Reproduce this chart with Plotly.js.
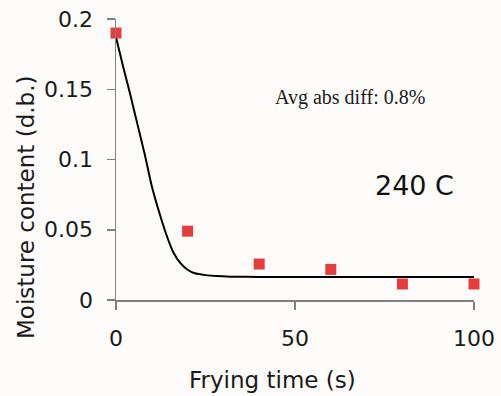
<!DOCTYPE html>
<html>
<head>
<meta charset="utf-8">
<script src="https://cdn.plot.ly/plotly-3.0.1.min.js"></script>
<style>html,body{margin:0;padding:0;background:#fdfcfa;}#chart{width:501px;height:396px;}</style>
</head>
<body>
<div id="chart"></div>
<script>
// Measured data points (red squares)
var measuredTime = [0, 20, 40, 60, 80, 100];
var measuredMoisture = [0.19, 0.049, 0.0256, 0.0218, 0.0114, 0.0114];

// Model curve (black line)
var modelTime = [0, 2, 4, 6, 8, 10, 12, 14, 16, 18, 20, 22, 25, 28, 32, 40, 60, 80, 100];
var modelMoisture = [0.187, 0.166, 0.146, 0.125, 0.104, 0.081, 0.063, 0.047, 0.034, 0.0262, 0.0215, 0.019, 0.0177, 0.017, 0.0166, 0.0164, 0.0163, 0.0163, 0.0163];

var xTickVals = [0, 50, 100];
var yTickVals = [0, 0.05, 0.1, 0.15, 0.2];
var yTickText = ['0', '0.05', '0.1', '0.15', '0.2'];

var xTitle = 'Frying time (s)';
var yTitle = 'Moisture content (d.b.)';
var noteText = 'Avg abs diff: 0.8%';
var tempText = '240 C';

var traces = [
  {
    x: modelTime, y: modelMoisture, type: 'scatter', mode: 'lines',
    line: {color: '#000000', width: 2, shape: 'spline', smoothing: 0.6},
    hoverinfo: 'skip', showlegend: false
  },
  {
    x: measuredTime, y: measuredMoisture, type: 'scatter', mode: 'markers',
    marker: {symbol: 'square', size: 11, color: '#e63c3c'},
    showlegend: false, cliponaxis: false
  }
];

var sans = 'DejaVu Sans, Verdana, sans-serif';
var tickFont = {family: sans, size: 22, color: '#1a1a1a'};
var titleFont = {family: sans, size: 23, color: '#1a1a1a'};

var layout = {
  width: 501, height: 396,
  margin: {l: 116, r: 27, t: 19, b: 96},
  paper_bgcolor: '#fdfcfa', plot_bgcolor: '#fdfcfa',
  font: {family: sans, color: '#1a1a1a'},
  xaxis: {
    range: [0, 100], tickvals: xTickVals, ticktext: xTickVals.map(String),
    showline: true, linecolor: '#808080', linewidth: 1.5,
    ticks: 'outside', ticklen: 8, tickcolor: '#808080', tickwidth: 1.5,
    ticklabelstandoff: 10,
    showgrid: false, zeroline: false, tickfont: tickFont,
    automargin: false
  },
  yaxis: {
    range: [0, 0.2], tickvals: yTickVals, ticktext: yTickText,
    showline: true, linecolor: '#808080', linewidth: 1.5,
    ticks: 'outside', ticklen: 8, tickcolor: '#808080', tickwidth: 1.5,
    ticklabelstandoff: 9,
    showgrid: false, zeroline: false, tickfont: tickFont,
    automargin: false
  },
  annotations: [
    {x: 0.4385, y: -0.2847, xref: 'paper', yref: 'paper', xanchor: 'center', yanchor: 'middle',
     text: xTitle, showarrow: false, font: titleFont},
    {x: -0.2514, y: 0.331, xref: 'paper', yref: 'paper', xanchor: 'center', yanchor: 'middle',
     text: yTitle, showarrow: false, textangle: -90, font: titleFont},
    {x: 0.654, y: 0.719, xref: 'paper', yref: 'paper', xanchor: 'center', yanchor: 'middle',
     text: noteText, showarrow: false,
     font: {family: 'Liberation Serif, Times New Roman, serif', size: 20, color: '#1a1a1a'}},
    {x: 0.835, y: 0.406, xref: 'paper', yref: 'paper', xanchor: 'center', yanchor: 'middle',
     text: tempText, showarrow: false,
     font: {family: sans, size: 27, color: '#111111'}}
  ]
};

Plotly.newPlot('chart', traces, layout, {displayModeBar: false, staticPlot: true});
</script>
</body>
</html>
